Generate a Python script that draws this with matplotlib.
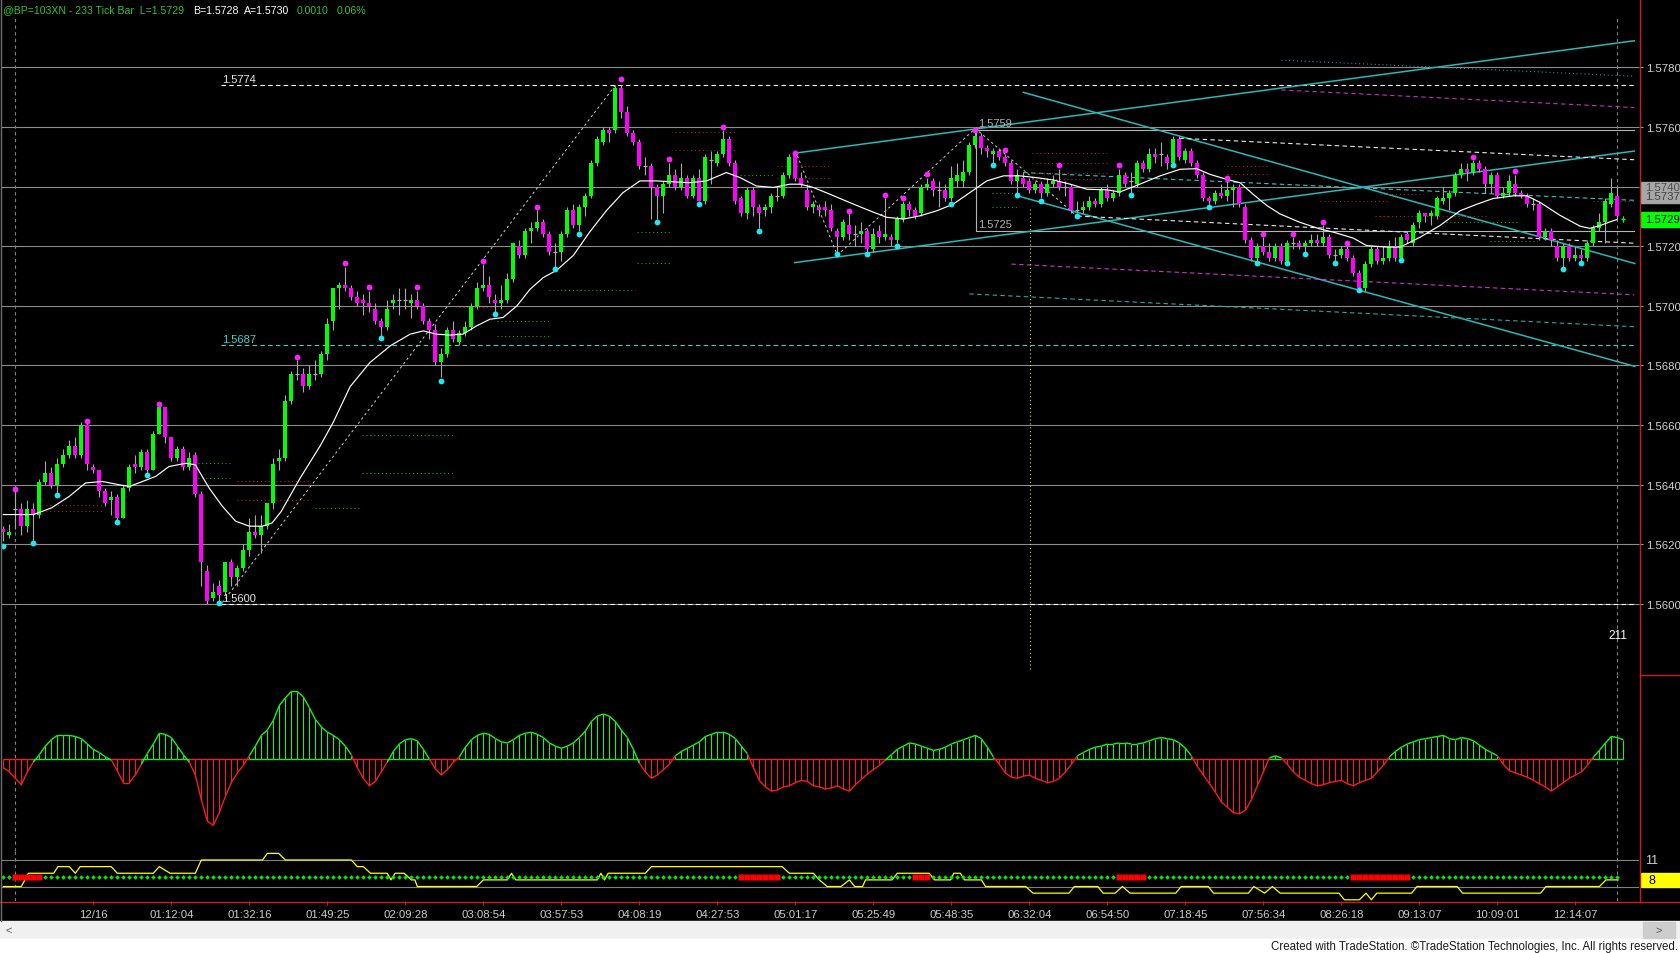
import matplotlib
matplotlib.use("Agg")
import matplotlib.pyplot as plt
import matplotlib.transforms as mtransforms
from matplotlib.patches import Rectangle
from matplotlib.lines import Line2D
from matplotlib.collections import LineCollection
import numpy as np

plt.rcParams['font.family'] = ['Liberation Sans', 'DejaVu Sans']

# ------------------------------------------------------------------ data
BASE = 1.5600        # all prices below are in pips (0.0001) above BASE
PIP = 0.0001

opens = [
    25, 23, 32, 32, 26, 32, 30, 41, 44, 40,
    47, 50, 53, 50, 60, 46, 45, 38, 35, 36,
    29, 39, 47, 46, 51, 45, 57, 66, 56, 49,
    52, 46, 50, 37, 11, 2, 6, 4, 14, 9,
    12, 18, 24, 23, 26, 34, 48, 49, 68, 77,
    77, 73, 77, 77, 84, 95, 106, 107, 106, 103,
    102, 101, 99, 95, 93, 101, 102, 102, 101, 102,
    100, 95, 92, 81, 84, 92, 88, 91, 93, 100,
    106, 107, 102, 101, 102, 109, 120, 117, 125, 126,
    128, 124, 118, 118, 124, 132, 127, 133, 137, 148,
    155, 159, 159, 173, 165, 158, 155, 147, 147, 140,
    137, 141, 144, 140, 143, 137, 143, 135, 149, 148,
    151, 156, 148, 136, 131, 139, 133, 132, 133, 137,
    137, 144, 151, 143, 139, 133, 133, 133, 132, 125,
    123, 127, 124, 124, 125, 119, 125, 123, 123, 122,
    129, 134, 132, 131, 140, 142, 139, 139, 136, 142,
    142, 145, 154, 157, 153, 151, 152, 150, 148, 142,
    143, 142, 139, 141, 138, 141, 142, 140, 140, 132,
    132, 133, 135, 134, 139, 136, 138, 144, 142, 141,
    148, 146, 151, 151, 150, 148, 156, 149, 152, 148,
    144, 136, 135, 138, 137, 139, 140, 133, 122, 116,
    120, 118, 116, 120, 115, 121, 121, 120, 121, 122,
    121, 123, 117, 117, 119, 116, 111, 106, 114, 119,
    115, 116, 120, 116, 124, 121, 128, 131, 130, 130,
    135, 136, 138, 144, 146, 145, 148, 146, 141, 144,
    137, 138, 141, 138, 137, 134, 134, 123, 125, 120,
    116, 120, 116, 117, 116, 121, 126, 128, 134, 137,
    129]

closes = [
    24, 24, 32, 26, 32, 30, 41, 44, 40, 47,
    50, 53, 50, 60, 47, 45, 38, 34, 36, 29,
    39, 46, 46, 51, 45, 57, 66, 56, 49, 52,
    46, 49, 37, 14, 1, 4, 3, 14, 9, 12,
    18, 24, 23, 26, 34, 47, 49, 68, 77, 77,
    73, 77, 77, 84, 94, 106, 107, 106, 103, 101,
    101, 100, 95, 93, 99, 102, 102, 102, 102, 100,
    95, 92, 81, 84, 92, 89, 91, 93, 100, 106,
    107, 103, 101, 102, 109, 121, 117, 125, 126, 128,
    124, 118, 118, 124, 132, 127, 133, 137, 148, 156,
    159, 158, 173, 165, 158, 155, 147, 147, 140, 137,
    141, 144, 140, 143, 137, 143, 135, 150, 149, 151,
    156, 148, 135, 131, 139, 133, 131, 133, 137, 137,
    144, 150, 143, 141, 133, 134, 132, 132, 126, 123,
    128, 124, 124, 125, 119, 124, 123, 124, 122, 129,
    134, 132, 130, 140, 141, 139, 139, 136, 143, 144,
    145, 154, 157, 153, 152, 152, 150, 148, 142, 144,
    141, 139, 141, 138, 141, 142, 140, 140, 132, 132,
    133, 135, 134, 139, 136, 138, 144, 141, 142, 148,
    146, 151, 150, 151, 148, 156, 150, 152, 148, 144,
    136, 135, 138, 137, 139, 140, 134, 122, 116, 120,
    118, 116, 120, 115, 121, 121, 120, 121, 122, 121,
    123, 117, 117, 119, 116, 111, 106, 114, 119, 115,
    116, 120, 116, 123, 122, 127, 131, 130, 131, 136,
    136, 138, 144, 146, 145, 148, 146, 141, 144, 137,
    138, 142, 138, 137, 134, 134, 123, 125, 122, 116,
    120, 116, 117, 116, 121, 126, 128, 135, 138, 130,
    129]

highs = [
    26, 27, 38, 34, 35, 34, 42, 48, 46, 49,
    52, 55, 56, 61, 61, 47, 45, 39, 38, 37,
    40, 47, 50, 52, 52, 58, 66, 66, 56, 53,
    53, 51, 51, 38, 13, 7, 8, 14, 15, 13,
    20, 29, 30, 30, 34, 49, 52, 70, 78, 82,
    79, 80, 82, 85, 96, 106, 108, 113, 107, 105,
    104, 105, 101, 96, 102, 104, 106, 106, 104, 105,
    101, 96, 94, 86, 93, 95, 92, 95, 101, 108,
    114, 110, 104, 107, 111, 121, 122, 126, 128, 132,
    129, 125, 121, 125, 133, 134, 134, 138, 149, 157,
    160, 160, 174, 174, 167, 159, 156, 150, 148, 141,
    142, 148, 146, 148, 144, 144, 146, 151, 152, 152,
    159, 157, 149, 137, 140, 140, 134, 134, 138, 140,
    145, 151, 151, 145, 141, 135, 134, 135, 134, 126,
    129, 131, 127, 128, 126, 126, 127, 136, 124, 130,
    135, 135, 133, 141, 143, 143, 142, 141, 147, 148,
    149, 155, 159, 158, 154, 153, 153, 151, 149, 146,
    145, 143, 142, 142, 143, 144, 146, 142, 141, 135,
    135, 137, 136, 140, 141, 139, 146, 145, 145, 149,
    149, 153, 153, 155, 151, 157, 157, 153, 153, 149,
    145, 137, 139, 141, 142, 141, 141, 134, 123, 121,
    123, 121, 121, 121, 122, 123, 122, 122, 124, 124,
    127, 124, 119, 120, 120, 117, 112, 115, 120, 120,
    120, 122, 123, 124, 125, 128, 132, 131, 132, 137,
    140, 139, 145, 148, 148, 149, 149, 147, 145, 145,
    140, 144, 144, 139, 138, 136, 135, 126, 126, 122,
    121, 121, 120, 119, 122, 127, 131, 136, 143, 140,
    130]

lows = [
    21, 22, 25, 23, 24, 21, 29, 40, 39, 37,
    46, 49, 49, 49, 45, 44, 36, 33, 30, 28,
    29, 38, 44, 45, 44, 45, 57, 54, 48, 48,
    45, 45, 36, 6, 0, 1, 0, 3, 6, 6,
    11, 16, 22, 17, 25, 32, 45, 48, 67, 75,
    71, 72, 75, 76, 82, 92, 99, 105, 102, 100,
    97, 98, 94, 90, 92, 99, 97, 99, 96, 99,
    94, 89, 80, 76, 83, 88, 87, 90, 92, 99,
    105, 101, 98, 99, 101, 108, 116, 116, 121, 125,
    123, 117, 113, 115, 123, 126, 125, 130, 136, 147,
    154, 155, 158, 163, 157, 154, 146, 144, 129, 129,
    131, 140, 139, 139, 136, 136, 135, 134, 141, 147,
    150, 147, 134, 130, 129, 130, 126, 130, 131, 135,
    136, 143, 142, 140, 132, 131, 130, 130, 125, 118,
    122, 122, 120, 121, 118, 118, 121, 122, 120, 121,
    128, 130, 129, 130, 139, 137, 133, 135, 135, 140,
    140, 144, 153, 151, 150, 148, 149, 147, 141, 138,
    140, 138, 138, 136, 137, 140, 139, 137, 131, 131,
    131, 132, 133, 133, 135, 135, 137, 140, 138, 140,
    145, 145, 148, 147, 146, 148, 149, 148, 147, 143,
    135, 134, 134, 136, 135, 133, 133, 121, 115, 115,
    117, 115, 115, 114, 115, 119, 119, 118, 120, 120,
    120, 116, 115, 116, 115, 110, 106, 105, 113, 114,
    114, 115, 115, 116, 121, 120, 126, 128, 127, 129,
    134, 132, 137, 143, 142, 144, 145, 138, 138, 136,
    136, 137, 137, 136, 133, 132, 122, 122, 120, 115,
    113, 115, 115, 115, 115, 120, 125, 121, 133, 129,
    128]

# moving average: (bar, pips)
ma_pts = [(0, 30), (5, 30), (8, 32.2), (11, 36.1), (13.7, 40.6), (16.5, 41.1), (19.3, 40),
          (21, 39.4), (23.2, 41.1), (25.4, 42.8), (27.6, 46.1), (30.4, 47.2), (32, 46.7),
          (34.3, 38.9), (36.5, 32.8), (38.7, 27.8), (41, 26.1), (43.2, 26.1), (44.8, 27.2),
          (46.3, 31), (49.4, 42), (52.8, 53), (55, 61), (57.8, 72.9), (61.1, 81), (64.5, 86.6),
          (67.8, 90.5), (70, 91.6), (72.2, 90.5), (74.4, 90.2), (76.6, 90.5), (78.9, 93.3),
          (81.1, 95.5), (83.3, 96.1), (85.6, 100), (87.8, 105.6), (90, 109.5), (92.2, 111.9),
          (95, 116.9), (97.7, 124.7), (100.5, 131.9), (103.3, 138), (106.1, 141.9),
          (108.8, 141.9), (111.6, 141.6), (114.4, 141.3), (117.2, 141.9), (120.5, 144.7),
          (122.8, 143), (125.5, 140.2), (128.3, 139.7), (131.1, 140.8), (132.8, 140.8),
          (135, 139.7), (137.8, 137.4), (141.7, 134.1), (144.4, 131.9), (147.2, 129.7),
          (150, 129.1), (152.8, 130.2), (155.6, 131.9), (158.3, 134.1), (161.1, 138),
          (163.9, 141.9), (166.7, 143.6), (169.4, 143.6), (172.2, 143), (175, 142.2),
          (177.8, 140.8), (180.6, 139.1), (183.9, 138.9), (186.1, 138.2), (189.4, 140.8),
          (192.8, 143.6), (196.1, 145.8), (198.9, 146), (201.1, 144.1), (203.9, 142.4),
          (206.1, 141.3), (208.3, 137.4), (210.6, 133.6), (212.8, 130.8), (216.1, 128),
          (219.4, 125.8), (221.7, 124.7), (225, 122.7), (227.2, 120.2), (230.6, 119.7),
          (232.8, 119.7), (236.1, 123), (239.4, 126.9), (242.8, 131.9), (245.6, 134.1),
          (248.3, 136), (251.7, 136.9), (253.9, 136.9), (256.1, 134.7), (259.4, 130.4),
          (262.8, 126.7), (264.4, 126), (266.1, 126.9), (267.8, 128.2), (268.9, 128.9)]

pivot_high_bars = [2, 14, 26, 49, 57, 61, 69, 80, 89, 103, 111, 120, 132, 141, 147, 150, 154,
                   162, 167, 176, 186, 204, 210, 215, 220, 224, 245, 252]
pivot_high_vals = [38.7, 61.3, 67.2, 83, 114.3, 106.2, 106.2, 115.1, 133, 176, 149.1, 160, 151.3,
                   131.9, 137.1, 136, 144.1, 159.1, 152.1, 147.1, 147.1, 143, 124.1, 124.1, 128,
                   121.1, 150, 145.2]
pivot_low_bars = [0, 5, 9, 19, 24, 36, 63, 73, 82, 92, 96, 109, 116, 126, 139, 144, 149, 158, 165,
                  169, 173, 179, 188, 195, 201, 209, 214, 217, 222, 226, 233, 260, 263]
pivot_low_vals = [19.4, 20.4, 36.4, 27.6, 43.3, 0.3, 89.1, 74.9, 97.1, 112.4, 124.1, 128, 134.1,
                  125, 117.4, 117.4, 120, 134.1, 147.1, 137.1, 135.2, 130.2, 137.1, 147.1, 133,
                  114.4, 114.4, 117.4, 114.4, 105.4, 115.3, 112.4, 114.4]

# oscillator histogram (one value per bar, arbitrary units)
osc = [
    -8, -12, -18, -24, -12, -3, 4, 12, 18, 22,
    22, 22, 21, 19, 14, 9, 6, 2, -1, -11,
    -22, -22, -15, -5, 5, 14, 24, 23, 20, 12,
    4, -3, -15, -38, -58, -62, -50, -35, -22, -13,
    -6, 3, 12, 22, 27, 36, 50, 57, 63, 63,
    58, 48, 37, 30, 25, 22, 18, 12, 4, -8,
    -18, -25, -21, -12, -3, 7, 14, 18, 19, 17,
    9, 0, -9, -15, -10, -3, 2, 11, 18, 22,
    24, 23, 19, 16, 15, 18, 22, 24, 25, 23,
    20, 15, 12, 10, 12, 15, 20, 26, 35, 40,
    42, 40, 35, 27, 20, 9, -4, -12, -18, -15,
    -10, -5, 3, 7, 10, 13, 16, 21, 23, 25,
    25, 23, 19, 12, 5, -8, -20, -26, -30, -29,
    -26, -25, -22, -20, -21, -25, -26, -28, -27, -25,
    -28, -30, -24, -19, -14, -10, -6, -1, 4, 9,
    12, 15, 14, 12, 10, 8, 9, 11, 14, 16,
    18, 20, 22, 19, 11, 2, -5, -13, -17, -18,
    -16, -15, -18, -20, -22, -21, -18, -12, -5, 3,
    6, 9, 11, 12, 14, 14, 15, 15, 14, 14,
    15, 17, 19, 20, 19, 18, 15, 10, 3, -7,
    -15, -23, -31, -40, -45, -50, -51, -48, -38, -25,
    -12, 1, 3, 1, -5, -12, -17, -20, -23, -25,
    -24, -22, -21, -20, -23, -25, -22, -20, -18, -12,
    -6, 2, 7, 11, 14, 16, 18, 19, 20, 21,
    22, 19, 18, 20, 19, 17, 13, 9, 6, 3,
    -5, -11, -13, -15, -17, -20, -23, -26, -30, -26,
    -22, -18, -15, -12, -6, 2, 8, 15, 21, 20,
    18]

# lower indicator: yellow stepped line (bar, value)
yellow_pts = [(0, 7), (3, 7), (4.2, 9), (8.4, 9), (9.1, 10), (11, 10), (12, 9), (12.8, 10),
              (18, 10), (19, 9), (25, 9), (26, 10), (27.8, 9), (32, 9), (33, 11), (43.2, 11),
              (44, 12), (45.9, 12), (47, 11), (58, 11), (59, 10), (60, 10), (61.2, 9), (64, 9),
              (64.6, 8), (65.3, 9), (66.8, 9), (68, 8), (68.6, 8), (69, 7), (78.9, 7), (80, 8),
              (84, 8), (84.7, 9), (85.4, 8), (99, 8), (99.6, 9), (100.2, 8), (100.8, 9),
              (107, 9), (108, 10), (129.8, 10), (131, 9), (135, 9), (136, 8), (137.3, 7),
              (139.6, 7), (141, 8), (141.9, 7), (143.2, 7), (143.7, 8), (148.1, 8), (149, 9),
              (154.3, 9), (155.2, 8), (157.9, 8), (158.4, 9), (159.5, 9), (160.2, 8), (163, 8),
              (163.7, 7), (170.4, 7), (171.6, 6), (177.6, 6), (178.5, 7), (182.4, 7), (183.3, 6),
              (185.3, 6), (186.5, 7), (187.8, 6), (195.4, 6), (196.3, 7), (200.8, 7), (201.7, 6),
              (207.5, 6), (208.4, 7), (210.2, 6), (211.5, 7), (212.8, 6), (222.6, 6), (223.5, 5),
              (226, 5), (227.1, 6), (228, 5), (228.9, 6), (234.7, 6), (235.6, 7), (242.3, 7),
              (243.2, 6), (256.2, 6), (257.1, 7), (266, 7), (267.1, 8), (269.1, 8)]
state_red_ranges = [(2, 6), (123, 129), (152, 154), (186, 190), (225, 234)]
state_last_bar = 269

time_labels = ['12/16', '01:12:04', '01:32:16', '01:49:25', '02:09:28', '03:08:54', '03:57:53',
               '04:08:19', '04:27:53', '05:01:17', '05:25:49', '05:48:35', '06:32:04', '06:54:50',
               '07:18:45', '07:56:34', '08:26:18', '09:13:07', '10:09:01', '12:14:07']
time_bars = [15, 28, 41, 54, 67, 80, 93, 106, 119, 132, 145, 158, 171, 184, 197, 210, 223, 236,
             249, 262]

# horizontal drawing levels (bar where they start, pips)
level_lines = [(36.3, 174, '#ffffff', '1.5774'), (36.3, 87, '#3cd0d0', '1.5687'),
               (36.3, 0, '#ffffff', '1.5600')]
box_bar, box_top, box_bottom = 162.1, 159, 125
# channel trend lines (x0, y0, x1, y1)
trend_lines = [(131.9, 151.2, 271.8, 188.9), (131.9, 114.5, 271.8, 151.9),
               (170, 171.6, 271.9, 114.2), (169, 136.9, 271.9, 79.7)]
# sloped dashed projection lines (x0, y0, x1, y1, colour)
proj_lines = [(196, 156.2, 271.8, 149, '#e8e8e8'), (170, 144.7, 271.8, 135.4, '#30c8c8'),
              (179, 130.1, 271.8, 121, '#e8e8e8'), (168, 114, 271.8, 103.7, '#d030d0'),
              (161, 104, 271.8, 93, '#2aa8a8'), (213, 172.4, 271.8, 166.5, '#c030c0')]
proj_dotted = [(213, 182.4, 271.8, 177, '#2a9090')]
# zig-zag between swing points (bar, pips)
zigzag_a = [(36.5, 0.5), (102, 174)]
zigzag_b = [(132, 152), (139, 117), (162, 159.5), (179, 130)]
# faint short dotted levels (colour, bar0, bar1, pips)
dotted_levels = [('r', 6.5, 16.5, 33.3), ('r', 6.5, 16.5, 31.1), ('g', 31.7, 37.8, 47.4),
                 ('g', 31.7, 37.8, 42.4), ('r', 38.9, 51.1, 41.4), ('r', 38.9, 51.1, 34.8),
                 ('g', 59.7, 75, 56.8), ('g', 59.7, 75, 43.8), ('g', 52, 59.2, 32.2),
                 ('g', 82.3, 91.3, 95), ('g', 82.3, 91.3, 90), ('r', 76, 82.3, 99.5),
                 ('r', 111.9, 122.2, 158.2), ('r', 111.9, 122.2, 152.1), ('g', 105.6, 111.2, 124.9),
                 ('g', 105.6, 111.2, 114.3), ('g', 91, 105.2, 105.2), ('r', 129, 138, 146.9),
                 ('r', 129, 138, 143), ('g', 122.8, 128.4, 143.9), ('r', 171.4, 184.2, 151.3),
                 ('r', 171.4, 184.2, 148), ('r', 171.4, 184.2, 144.7), ('r', 171.4, 184.2, 142.4),
                 ('g', 164.7, 169.1, 138), ('g', 164.7, 169.1, 133), ('r', 203.9, 211.1, 146.9),
                 ('r', 203.9, 211.1, 144.1), ('r', 219.4, 231.1, 135.2), ('r', 228.6, 231, 130.2),
                 ('r', 229.4, 236.6, 137.4), ('r', 229.4, 247.2, 130), ('g', 240.5, 252.7, 128),
                 ('g', 247.8, 255.6, 121.9), ('r', 264.9, 272, 135.2)]
yellow_vline = (171.05, -21.8, 133)
cursor_bars = [2, 269]
bar_count_text = (269, -10.4, '211')

# ------------------------------------------------------------------ figure
W, H, DPI = 1680, 954, 100
fig = plt.figure(figsize=(W / DPI, H / DPI), dpi=DPI, facecolor='black')


def fx(px):
    return px / W


def fy(py):
    return 1 - py / H


XL, XR = 1, 1639
XLIM = (-0.383, 272.6)


def panel(top, bottom):
    a = fig.add_axes([fx(XL), fy(bottom), (XR - XL) / W, (bottom - top) / H])
    a.set_facecolor('black')
    for s in a.spines.values():
        s.set_visible(False)
    a.tick_params(left=False, labelleft=False, bottom=False, labelbottom=False)
    a.set_xlim(*XLIM)
    return a


ax = panel(18, 676)
axo = panel(676, 852)
axb = panel(852, 902)
ax.set_ylim(-23.81, 196.87)
axo.set_ylim(-85.9, 78.4)
axb.set_ylim(4.816, 12.357)

n = len(closes)
xs = np.arange(n)
o = np.array(opens, float)
c = np.array(closes, float)
hi = np.array(highs, float)
lo = np.array(lows, float)

# grid + right price axis
yt = list(range(0, 181, 20))
for v in yt:
    ax.axhline(v, color='#8c8c8c', lw=0.8, zorder=1)
ax.set_yticks(yt)
ax.set_yticklabels(['%.4f' % (BASE + v * PIP) for v in yt])
ax.yaxis.tick_right()
ax.tick_params(axis='y', right=True, labelright=True, length=3, width=0.8, color='#a0a0a0',
               labelcolor='#d2d2d2', labelsize=8.2, pad=2)

# drawings
ls_dash = (0, (4, 3))
ls_dot = (0, (1, 2.5))
for b0, v, col, txt in level_lines:
    ax.plot([b0, 271.8], [v, v], color=col, lw=0.8, ls=ls_dash, zorder=2)
    ax.text(b0 + 0.1, v + 1.0, txt, color='#e6e6e6' if col == '#ffffff' else col,
            fontsize=8, va='baseline', ha='left', zorder=6)
ax.plot([box_bar, 271.8], [box_top, box_top], color='#b4b4b4', lw=0.8, zorder=2)
ax.plot([box_bar, 271.8], [box_bottom, box_bottom], color='#b4b4b4', lw=0.8, zorder=2)
ax.plot([box_bar, box_bar], [box_bottom, box_top], color='#b4b4b4', lw=0.8, zorder=2)
ax.text(box_bar + 0.3, box_top + 1.3, '%.4f' % (BASE + box_top * PIP), color='#b0b0b0',
        fontsize=8, va='baseline', zorder=6)
ax.text(box_bar + 0.3, box_bottom + 1.6, '%.4f' % (BASE + box_bottom * PIP), color='#b0b0b0',
        fontsize=8, va='baseline', zorder=6)
for x0, y0, x1, y1 in trend_lines:
    ax.plot([x0, x1], [y0, y1], color='#2ab8b8', lw=1.1, zorder=2)
for x0, y0, x1, y1, col in proj_lines:
    ax.plot([x0, x1], [y0, y1], color=col, lw=0.8, ls=ls_dash, zorder=2)
for x0, y0, x1, y1, col in proj_dotted:
    ax.plot([x0, x1], [y0, y1], color=col, lw=0.8, ls=ls_dot, zorder=2)
for pts in (zigzag_a, zigzag_b):
    zx, zv = zip(*pts)
    ax.plot(zx, zv, color='#d0d0d0', lw=0.7, ls=(0, (2.5, 3)), zorder=2)
for col, b0, b1, v in dotted_levels:
    ax.plot([b0, b1], [v, v], color='#b02020' if col == 'r' else '#20a020', lw=0.8,
            ls=ls_dot, zorder=2)
ax.plot([yellow_vline[0]] * 2, yellow_vline[1:], color='#e0e040', lw=0.8, ls=ls_dot, zorder=2)
for a in (ax, axo, axb):
    for b in cursor_bars:
        a.axvline(b, color='#808080', lw=0.8, ls=(0, (3, 3)), zorder=1)

# candles
ax.vlines(xs, lo, hi, color='#a8a8a8', lw=0.8, zorder=3)
up = c > o
dn = c < o
eq = c == o
ax.bar(xs[up], (c - o)[up], bottom=o[up], width=0.68, color='#00ff00', linewidth=0, zorder=4)
ax.bar(xs[dn], (o - c)[dn], bottom=c[dn], width=0.68, color='#ff00ff', linewidth=0, zorder=4)
ax.hlines(c[eq][:-1], xs[eq][:-1] - 0.34, xs[eq][:-1] + 0.34, color='#b0b0b0', lw=0.9, zorder=4)
ax.hlines(c[-1], xs[-1] - 0.34, xs[-1] + 0.34, color='#00ff00', lw=1.0, zorder=4)
ax.vlines(xs[-1], lo[-1], hi[-1], color='#00ff00', lw=0.8, zorder=4)

# moving average
mx, mv = zip(*ma_pts)
ax.plot(mx, mv, color='white', lw=0.85, zorder=5)

# swing dots
ax.plot(pivot_high_bars, pivot_high_vals, 'o', ms=4.2, color='#ff20ff', mec='none', zorder=6)
ax.plot(pivot_low_bars, pivot_low_vals, 'o', ms=4.2, color='#20e8f0', mec='none', zorder=6)

ax.text(bar_count_text[0], bar_count_text[1], bar_count_text[2], color='white', fontsize=8.5,
        ha='center', va='center', zorder=6)

# price boxes on right axis
bt = mtransforms.blended_transform_factory(ax.transAxes, ax.transData)
ax.add_patch(Rectangle((1.0012, 134.6), 0.0245, 6.8, transform=bt, color='#a6a6a6',
                       clip_on=False, zorder=10))
ax.text(1.0040, 140, '1.5740', transform=bt, color='#505050', fontsize=8.2, va='center',
        clip_on=False, zorder=11)
ax.text(1.0040, 137, '1.5737', transform=bt, color='#404040', fontsize=8.2, va='center',
        clip_on=False, zorder=12)
ax.add_patch(Rectangle((1.0012, 126.5), 0.0245, 5.0, transform=bt, color='#00ff00',
                       clip_on=False, zorder=10))
ax.text(1.0040, 129, '%.4f' % (BASE + closes[-1] * PIP), transform=bt, color='black',
        fontsize=8.2, va='center', clip_on=False, zorder=11)

# oscillator
ov = np.array(osc, float)
ocol = np.where(ov >= 0, '#20ee20', '#ee2020')
axo.vlines(xs, 0, ov, colors=ocol, lw=0.8)
segs = [[(i, ov[i]), (i + 1, ov[i + 1])] for i in range(n - 1)]
scol = ['#20ee20' if ov[i] + ov[i + 1] >= 0 else '#ee2020' for i in range(n - 1)]
axo.add_collection(LineCollection(segs, colors=scol, linewidths=1.0))
zsegs = [[(i, 0), (i + 1, 0)] for i in range(n - 1)]
axo.add_collection(LineCollection(zsegs, colors=scol, linewidths=1.0))

# bottom indicator panel
axb.axhline(11, color='#808080', lw=0.8)
axb.axhline(7, color='#808080', lw=0.8)
yx, yv = zip(*yellow_pts)
axb.plot(yx, yv, color='#ffff00', lw=0.9, zorder=3)
red_bars = [b for r0, r1 in state_red_ranges for b in range(r0, r1 + 1)]
green_bars = [b for b in range(state_last_bar + 1) if b not in red_bars]
axb.plot(green_bars, [8.45] * len(green_bars), 'D', ms=2.3, color='#00ee00', mec='none', zorder=4)
axb.plot(red_bars, [8.45] * len(red_bars), 's', ms=4.4, color='#ff0000', mec='none', zorder=4)
bb = mtransforms.blended_transform_factory(axb.transAxes, axb.transData)
axb.text(1.004, 11, '11', transform=bb, color='#d2d2d2', fontsize=9, va='center', clip_on=False)
axb.add_patch(Rectangle((1.0012, 6.9), 0.0245, 2.2, transform=bb, color='#ffff00',
                        clip_on=False, zorder=10))
axb.text(1.006, 7.95, '8', transform=bb, color='black', fontsize=9, va='center',
         clip_on=False, zorder=11)

axb.set_xticks(time_bars)
axb.set_xticklabels(time_labels)
axb.tick_params(axis='x', bottom=True, labelbottom=True, length=3, width=0.8, color='#c02020',
                labelcolor='#cccccc', labelsize=8.2, pad=3)

# frame lines
red = '#c81e1e'
fig.add_artist(Line2D([fx(1639.5)] * 2, [fy(0), fy(902)], color=red, lw=1.0))
fig.add_artist(Line2D([0, 1], [fy(902.5)] * 2, color=red, lw=1.0))
fig.add_artist(Line2D([fx(1639.5), 1], [fy(676)] * 2, color=red, lw=1.0))
fig.add_artist(Line2D([fx(0.5)] * 2, [fy(0), fy(922)], color='#707070', lw=1.0))

# title
title_parts = [(3.3, '@BP=103XN - 233 Tick Bar  L=1.5729', '#33c433'),
               (192.7, 'B=1.5728', '#ffffff'), (244, 'A=1.5730', '#ffffff'),
               (297, '0.0010', '#33c433'), (336.7, '0.06%', '#33c433')]
for px, txt, col in title_parts:
    fig.text(fx(px), fy(10.5), txt, color=col, fontsize=7.6, va='center', ha='left')

# scrollbar + footer
fig.add_artist(Rectangle((0, fy(939.5)), 1, (939.5 - 922) / H, transform=fig.transFigure,
                         color='#f0f0f0'))
fig.add_artist(Rectangle((0, 0), 1, fy(939.5), transform=fig.transFigure, color='white'))
fig.add_artist(Rectangle((fx(1643), fy(938.5)), (1675 - 1643) / W, 15.5 / H,
                         transform=fig.transFigure, color='#cdcdcd'))
fig.text(fx(5), fy(930.5), '<', color='#555555', fontsize=8, va='center')
fig.text(fx(1656), fy(930.5), '>', color='#555555', fontsize=8, va='center')
fig.text(fx(1678), fy(947), 'Created with TradeStation. \u00a9TradeStation Technologies, Inc. '
         'All rights reserved.', color='#1a1a1a', fontsize=8.3, ha='right', va='center',
         family=['Liberation Sans Narrow', 'Liberation Sans', 'DejaVu Sans'])

fig.savefig('out.png', dpi=DPI, facecolor='black')
